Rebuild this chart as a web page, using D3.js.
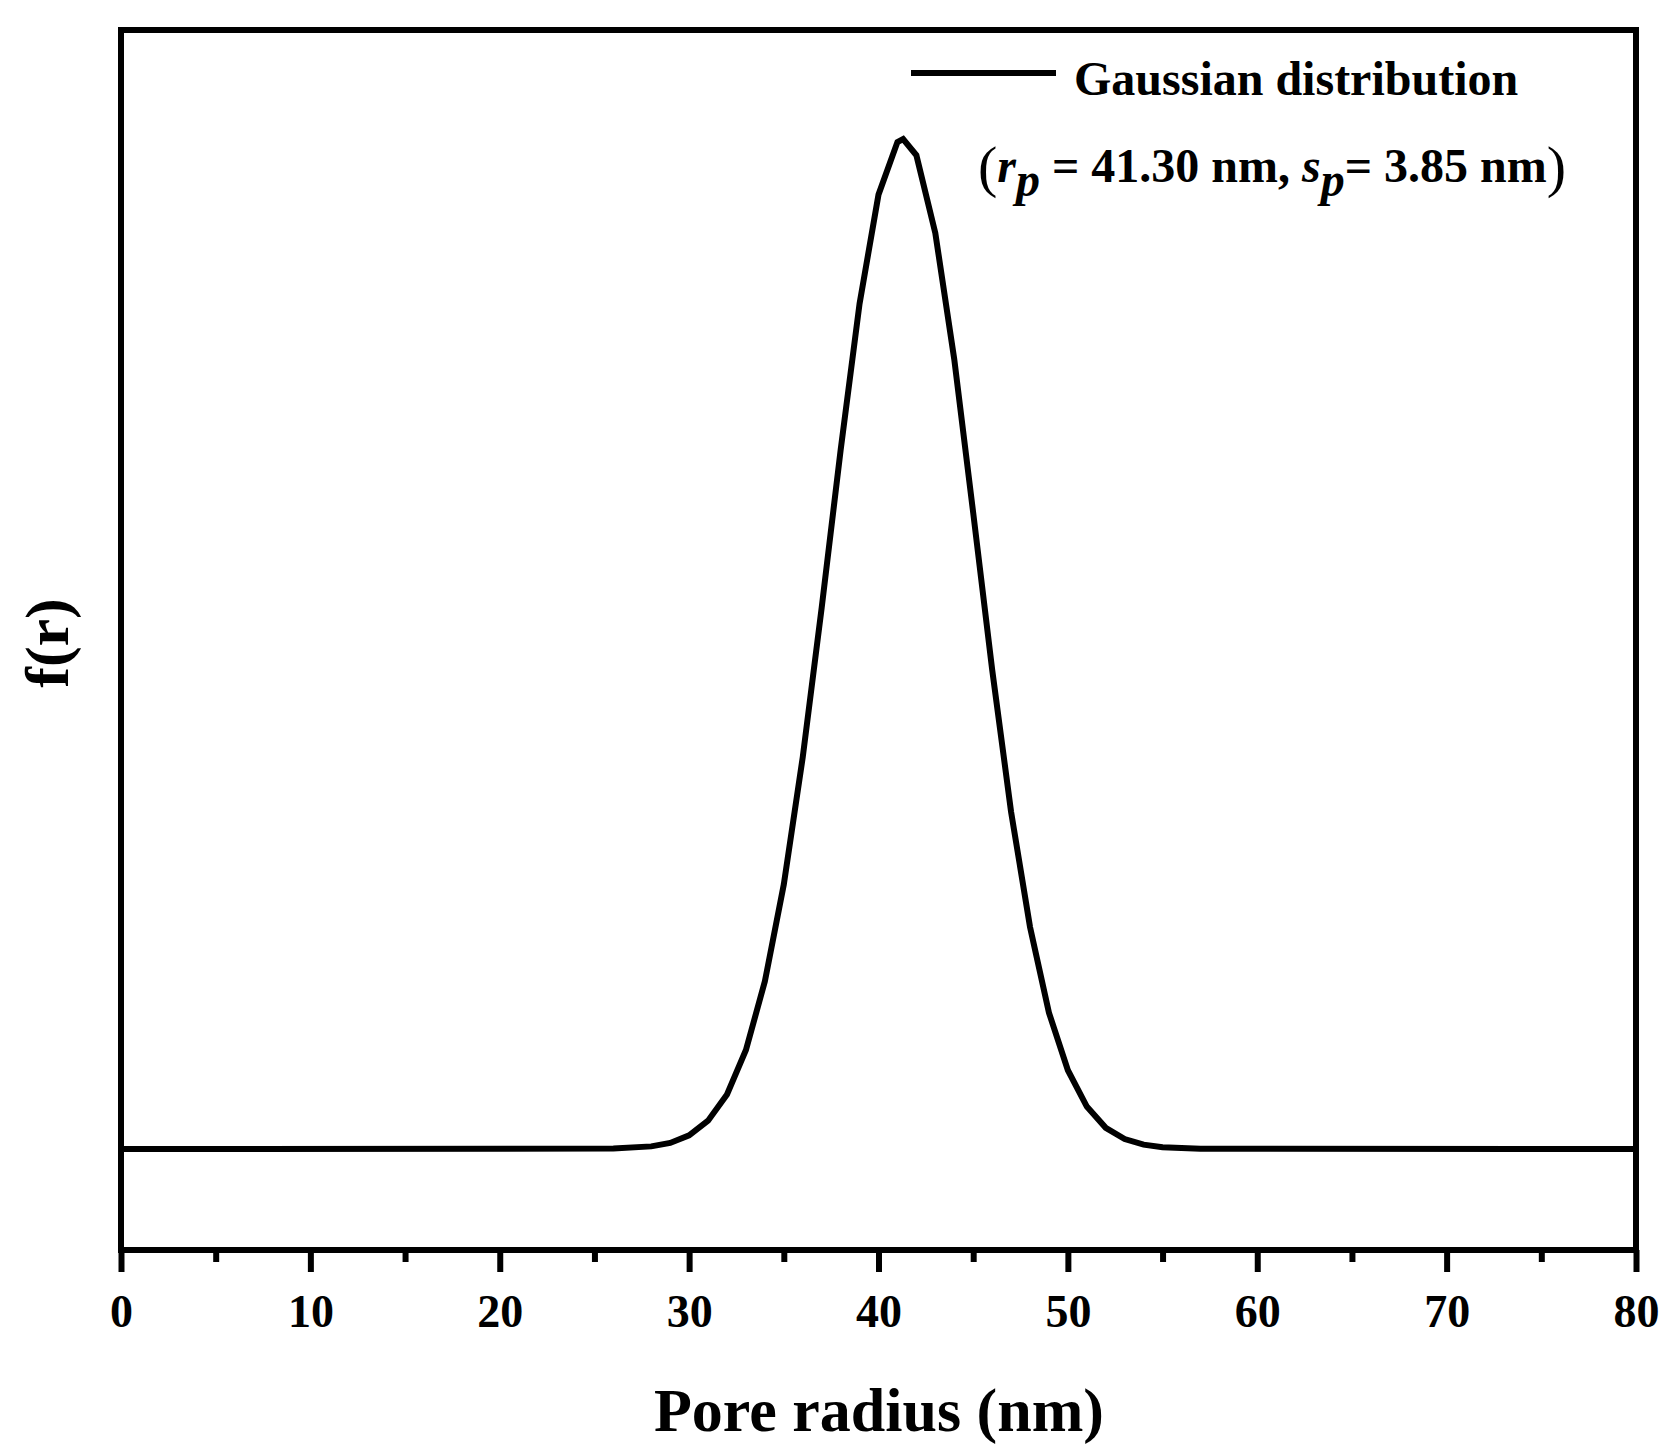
<!DOCTYPE html>
<html>
<head>
<meta charset="utf-8">
<script src="https://cdn.jsdelivr.net/npm/d3@7"></script>
<style>
  body { margin: 0; background: #fff; }
  text { font-family: "Liberation Serif", "Times New Roman", serif; font-weight: bold; }
</style>
</head>
<body>
<svg id="chart" width="1679" height="1455"></svg>
<script>
// pore radius (nm) and f(r)
var radius = [0, 26, 28, 29, 30, 31, 32, 33, 34, 35, 36, 37, 38, 39, 40, 41, 41.3, 42, 43, 44, 45, 46, 47, 48, 49, 50, 51, 52, 53, 54, 55, 57, 80];
var fr = [0, 0.0004, 0.0026, 0.006, 0.0135, 0.028, 0.054, 0.098, 0.166, 0.262, 0.388, 0.536, 0.692, 0.837, 0.945, 0.997, 1.0, 0.984, 0.907, 0.782, 0.630, 0.475, 0.334, 0.220, 0.135, 0.078, 0.042, 0.021, 0.0099, 0.0043, 0.0018, 0.0002, 0];
var xTicks = [0, 10, 20, 30, 40, 50, 60, 70, 80];
var xMinor = [5, 15, 25, 35, 45, 55, 65, 75];

var plotLeft = 121, plotRight = 1636, plotTop = 30, plotBottom = 1250;
var svg = d3.select("#chart");

var x = d3.scaleLinear().domain([0, 80]).range([plotLeft, plotRight]);
var y = d3.scaleLinear().domain([-0.1, 1.108]).range([plotBottom, plotTop]);

// frame
svg.append("rect")
    .attr("x", plotLeft).attr("y", plotTop)
    .attr("width", plotRight - plotLeft).attr("height", plotBottom - plotTop)
    .attr("fill", "none").attr("stroke", "#000").attr("stroke-width", 6);

// x axis
var xAxis = d3.axisBottom(x).tickValues(xTicks).tickSize(22).tickPadding(22);
var gx = svg.append("g").attr("transform", "translate(0," + plotBottom + ")").call(xAxis);
gx.select(".domain").remove();
gx.selectAll(".tick line").attr("stroke-width", 6);
gx.selectAll(".tick text").attr("font-size", 46).attr("font-family", "Liberation Serif").attr("font-weight", "bold").attr("fill", "#000");

var gm = svg.append("g").attr("transform", "translate(0," + plotBottom + ")")
    .call(d3.axisBottom(x).tickValues(xMinor).tickSize(12).tickFormat(""));
gm.select(".domain").remove();
gm.selectAll(".tick line").attr("stroke-width", 6);

// curve
var line = d3.line().x(function(d, i) { return x(radius[i]); }).y(function(d) { return y(d); });
svg.append("path")
    .attr("d", line(fr))
    .attr("fill", "none").attr("stroke", "#000").attr("stroke-width", 6)
    .attr("stroke-linejoin", "miter");

// legend
svg.append("line").attr("x1", 911).attr("x2", 1056).attr("y1", 73).attr("y2", 73)
    .attr("stroke", "#000").attr("stroke-width", 6);
svg.append("text").attr("x", 1074).attr("y", 95).attr("font-size", 48).text("Gaussian distribution");

var t2 = svg.append("text").attr("x", 978).attr("y", 182).attr("font-size", 48);
t2.append("tspan").attr("font-size", 58).attr("font-weight", "normal").attr("dy", 4).text("(");
t2.append("tspan").attr("font-style", "italic").attr("dy", -4).text("r");
t2.append("tspan").attr("font-style", "italic").attr("dy", 14).text("p");
t2.append("tspan").attr("dy", -14).text(" = 41.30 nm, ");
t2.append("tspan").attr("font-style", "italic").text("s");
t2.append("tspan").attr("font-style", "italic").attr("dy", 14).text("p");
t2.append("tspan").attr("dy", -14).text("= 3.85 nm");
t2.append("tspan").attr("font-size", 58).attr("font-weight", "normal").attr("dy", 4).text(")");

// axis labels
svg.append("text").attr("x", 879).attr("y", 1431).attr("text-anchor", "middle")
    .attr("font-size", 62).text("Pore radius (nm)");
svg.append("text").attr("transform", "translate(68,643) rotate(-90)").attr("text-anchor", "middle")
    .attr("font-size", 62).text("f(r)");
</script>
</body>
</html>
